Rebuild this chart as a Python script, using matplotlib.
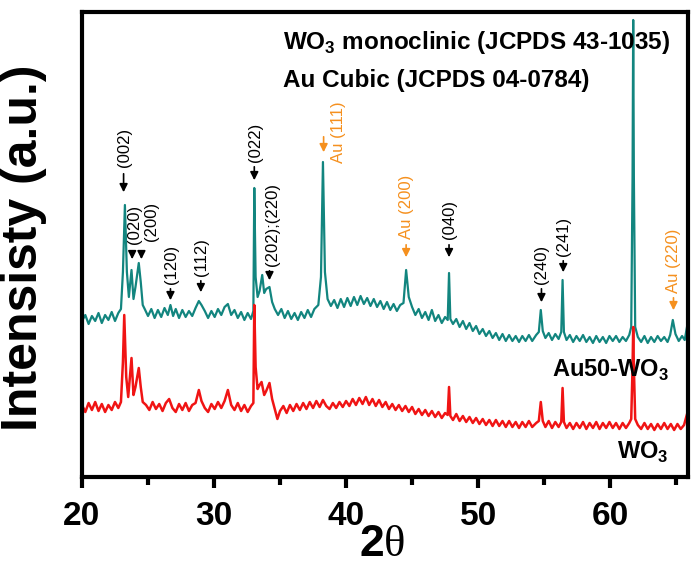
import matplotlib
matplotlib.use("Agg")
import matplotlib.pyplot as plt
import numpy as np

plt.rcParams['font.family'] = ['Liberation Sans', 'DejaVu Sans']
plt.rcParams['mathtext.fontset'] = 'custom'
plt.rcParams['mathtext.rm'] = 'Liberation Serif'
plt.rcParams['mathtext.bf'] = 'Liberation Sans:bold'

# Au50-WO3 pattern (teal)
tt_au = [20.00, 20.25, 20.50, 20.75, 21.00, 21.25, 21.50, 21.75, 22.00, 22.25, 22.50, 22.75, 22.95,
         23.10, 23.25, 23.40, 23.55, 23.75, 23.90, 24.05, 24.30, 24.45, 24.60, 24.75, 25.00, 25.25,
         25.50, 25.75, 26.00, 26.25, 26.50, 26.70, 26.90, 27.10, 27.35, 27.60, 27.85, 28.10, 28.35,
         28.60, 28.85, 29.05, 29.30, 29.55, 29.80, 30.05, 30.30, 30.55, 30.80, 31.05, 31.30, 31.55,
         31.80, 32.05, 32.30, 32.55, 32.80, 32.98, 33.05, 33.15, 33.30, 33.45, 33.65, 33.80, 33.95,
         34.20, 34.40, 34.60, 34.85, 35.10, 35.35, 35.60, 35.85, 36.10, 36.35, 36.60, 36.85, 37.10,
         37.35, 37.60, 37.90, 38.10, 38.25, 38.40, 38.60, 38.85, 39.10, 39.35, 39.60, 39.85, 40.10,
         40.35, 40.60, 40.85, 41.10, 41.35, 41.60, 41.85, 42.10, 42.35, 42.60, 42.85, 43.10, 43.35,
         43.60, 43.85, 44.10, 44.35, 44.55, 44.75, 45.00, 45.25, 45.50, 45.75, 46.00, 46.25, 46.50,
         46.75, 47.00, 47.25, 47.50, 47.70, 47.80, 47.90, 48.10, 48.35, 48.60, 48.85, 49.10, 49.35,
         49.60, 49.85, 50.10, 50.35, 50.60, 50.85, 51.10, 51.35, 51.60, 51.85, 52.10, 52.35, 52.60,
         52.85, 53.10, 53.35, 53.60, 53.85, 54.10, 54.40, 54.60, 54.75, 54.90, 55.10, 55.35, 55.60,
         55.85, 56.10, 56.30, 56.40, 56.50, 56.70, 56.95, 57.20, 57.45, 57.70, 57.95, 58.20, 58.45,
         58.70, 58.95, 59.20, 59.45, 59.70, 59.95, 60.20, 60.45, 60.70, 60.95, 61.20, 61.45, 61.60,
         61.70, 61.75, 61.80, 61.90, 62.10, 62.35, 62.60, 62.85, 63.10, 63.35, 63.60, 63.85, 64.10,
         64.35, 64.55, 64.75, 64.95, 65.20, 65.45, 65.65, 65.85]
int_au = [156, 162, 153, 161, 156, 164, 154, 162, 157, 165, 156, 164, 168,
          205, 272, 205, 180, 207, 178, 190, 214, 195, 172, 168, 161, 168,
          159, 167, 160, 169, 162, 172, 161, 168, 159, 167, 160, 166, 161,
          169, 176, 172, 166, 159, 166, 160, 168, 162, 170, 173, 162, 167,
          159, 165, 157, 164, 158, 166, 289, 200, 180, 186, 202, 184, 188,
          190, 175, 168, 162, 168, 159, 166, 158, 164, 157, 165, 159, 167,
          160, 168, 172, 200, 315, 205, 178, 171, 177, 169, 178, 170, 179,
          171, 180, 172, 181, 173, 179, 171, 178, 170, 176, 168, 175, 167,
          173, 166, 172, 174, 207, 180, 170, 162, 168, 159, 165, 157, 167,
          156, 162, 154, 160, 157, 204, 158, 153, 158, 150, 156, 148, 154,
          146, 151, 143, 148, 141, 146, 139, 144, 137, 143, 136, 142, 136,
          141, 135, 141, 136, 142, 136, 142, 145, 167, 146, 139, 144, 137,
          143, 138, 145, 197, 145, 137, 142, 135, 141, 136, 142, 135, 140,
          134, 141, 135, 140, 134, 141, 136, 141, 135, 140, 136, 142, 150,
          300, 457, 300, 150, 140, 135, 141, 134, 140, 135, 141, 136, 140,
          135, 142, 157, 143, 136, 141, 137, 152]

# WO3 pattern (red)
tt_wo3 = [20.00, 20.25, 20.50, 20.75, 21.00, 21.25, 21.50, 21.75, 22.00, 22.25, 22.50, 22.75, 22.95,
          23.10, 23.20, 23.35, 23.50, 23.75, 23.90, 24.05, 24.30, 24.45, 24.60, 24.85, 25.10, 25.35,
          25.60, 25.85, 26.10, 26.35, 26.60, 26.85, 27.10, 27.35, 27.60, 27.85, 28.10, 28.35, 28.60,
          28.85, 29.05, 29.30, 29.55, 29.80, 30.05, 30.30, 30.55, 30.80, 31.05, 31.30, 31.55, 31.80,
          32.05, 32.30, 32.55, 32.80, 32.98, 33.05, 33.15, 33.30, 33.45, 33.60, 33.80, 33.95, 34.20,
          34.40, 34.60, 34.80, 35.00, 35.25, 35.50, 35.75, 36.00, 36.25, 36.50, 36.75, 37.00, 37.25,
          37.50, 37.75, 38.00, 38.25, 38.50, 38.75, 39.00, 39.25, 39.50, 39.75, 40.00, 40.25, 40.50,
          40.75, 41.00, 41.25, 41.50, 41.75, 42.00, 42.25, 42.50, 42.75, 43.00, 43.25, 43.50, 43.75,
          44.00, 44.25, 44.50, 44.75, 45.00, 45.25, 45.50, 45.75, 46.00, 46.25, 46.50, 46.75, 47.00,
          47.25, 47.50, 47.70, 47.80, 47.90, 48.10, 48.35, 48.60, 48.85, 49.10, 49.35, 49.60, 49.85,
          50.10, 50.35, 50.60, 50.85, 51.10, 51.35, 51.60, 51.85, 52.10, 52.35, 52.60, 52.85, 53.10,
          53.35, 53.60, 53.85, 54.10, 54.40, 54.60, 54.75, 54.90, 55.10, 55.35, 55.60, 55.85, 56.10,
          56.30, 56.40, 56.50, 56.70, 56.95, 57.20, 57.45, 57.70, 57.95, 58.20, 58.45, 58.70, 58.95,
          59.20, 59.45, 59.70, 59.95, 60.20, 60.45, 60.70, 60.95, 61.20, 61.45, 61.60, 61.70, 61.75,
          61.80, 61.90, 62.10, 62.35, 62.60, 62.85, 63.10, 63.35, 63.60, 63.85, 64.10, 64.35, 64.60,
          64.85, 65.10, 65.35, 65.60, 65.85]
int_wo3 = [72, 65, 74, 67, 75, 66, 73, 65, 72, 67, 75, 69, 75,
           115, 162, 100, 80, 119, 82, 90, 109, 90, 75, 72, 67, 75,
           68, 73, 66, 74, 78, 69, 65, 73, 67, 74, 66, 72, 74,
           87, 76, 69, 65, 73, 68, 75, 69, 76, 87, 72, 67, 74,
           66, 72, 65, 71, 74, 172, 110, 88, 92, 95, 82, 86, 94,
           78, 68, 58, 66, 71, 64, 72, 66, 73, 67, 74, 68, 75,
           69, 76, 70, 77, 71, 68, 74, 69, 75, 70, 76, 71, 78,
           72, 79, 73, 80, 72, 78, 71, 77, 70, 75, 68, 73, 67,
           72, 66, 71, 65, 70, 63, 68, 62, 67, 61, 66, 60, 65,
           59, 64, 62, 90, 61, 57, 63, 56, 61, 55, 60, 54, 59,
           53, 58, 52, 57, 51, 57, 51, 56, 50, 56, 50, 55, 49,
           55, 50, 56, 50, 54, 56, 75, 56, 50, 56, 49, 55, 50,
           55, 89, 55, 49, 54, 48, 54, 49, 55, 48, 54, 49, 55,
           48, 54, 49, 55, 49, 54, 48, 54, 49, 54, 58, 110, 150,
           110, 58, 52, 48, 54, 48, 53, 47, 53, 48, 54, 48, 53,
           47, 53, 48, 52, 64]

# peak markers: label, arrow x, arrow tip, arrow tail, label x, label bottom, colour
peak_labels = ['(002)', '(020)', '(200)', '(120)', '(112)', '(022)', '(202);(220)',
               'Au (111)', 'Au (200)', '(040)', '(240)', '(241)', 'Au (220)']
peak_x = [23.15, 23.8, 24.5, 26.7, 29.0, 33.05, 34.2, 38.3, 44.55, 47.8, 54.8, 56.45, 64.8]
arrow_tip = [282, 215, 215, 174, 182, 294, 194, 322, 217, 217, 172, 202, 164]
arrow_tail = [306, 229, 229, 191, 199, 313, 209, 343, 235, 235, 191, 219, 182]
label_x = [23.25, 24.0, 25.3, 26.8, 29.05, 33.15, 34.45, 39.4, 44.6, 47.8, 54.8, 56.45, 64.8]
label_y = [310, 233, 236, 193, 201, 315, 211, 314, 238, 238, 193, 221, 184]
orange = '#f5901e'
peak_colors = ['black'] * 7 + [orange, orange, 'black', 'black', 'black', orange]

teal = '#12857f'
red = '#f01414'

fig = plt.figure(figsize=(7, 5.73), dpi=100)
ax = fig.add_axes([82 / 700, 1 - 477 / 573, 606 / 700, 465.5 / 573])

ax.plot(tt_au, int_au, color=teal, lw=1.6)
ax.plot(tt_wo3, int_wo3, color=red, lw=1.8)

for lab, x, tip, tail, lx, ly, c in zip(peak_labels, peak_x, arrow_tip, arrow_tail,
                                        label_x, label_y, peak_colors):
    ax.annotate('', xy=(x, tip), xytext=(x, tail),
                arrowprops=dict(arrowstyle='-|>', color=c, lw=1.2, mutation_scale=12))
    ax.text(lx, ly, lab, rotation=90, ha='center', va='bottom', fontsize=12, color=c)

ax.text(35.2, 434, r'WO$_\mathbf{3}$ monoclinic (JCPDS 43-1035)', fontsize=17.5,
        fontweight='bold', va='center', ha='left')
ax.text(35.2, 396, 'Au Cubic (JCPDS 04-0784)', fontsize=17.5, fontweight='bold',
        va='center', ha='left')
ax.text(55.6, 107, r'Au50-WO$_\mathbf{3}$', fontsize=17, fontweight='bold',
        va='center', ha='left')
ax.text(60.5, 25, r'WO$_\mathbf{3}$', fontsize=17, fontweight='bold',
        va='center', ha='left')

ax.set_xlim(20, 65.9)
ax.set_ylim(0, 465.5)
ax.set_yticks([])
ax.set_xticks([20, 30, 40, 50, 60])
ax.set_xticks([25, 35, 45, 55, 65], minor=True)
ax.tick_params(axis='x', which='major', direction='out', length=8, width=3,
               labelsize=24, pad=9)
ax.tick_params(axis='x', which='minor', direction='out', length=5.5, width=3)
for lbl in ax.get_xticklabels():
    lbl.set_fontweight('bold')
for s in ax.spines.values():
    s.set_linewidth(3)

fig.text(24 / 700, 1 - 248 / 573, 'Intensisty (a.u.)', rotation=90, fontsize=36,
         fontweight='bold', ha='center', va='center')
fig.text(382 / 700, 1 - 545 / 573, r'$\mathbf{2}\mathrm{\theta}$', fontsize=32,
         ha='center', va='center')

fig.savefig('out.png', dpi=100)
